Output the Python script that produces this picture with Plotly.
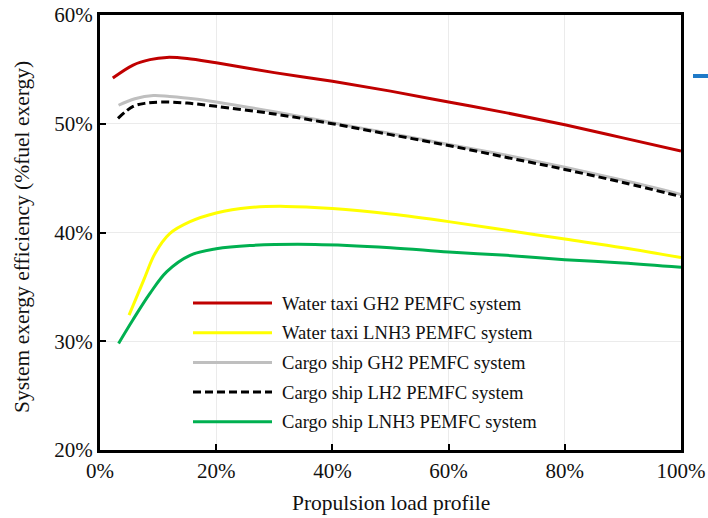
import plotly.graph_objects as go

# Data (load % , efficiency %)
red_x = [2.2, 5.7, 8.6, 11.5, 15, 20, 30, 40, 50, 60, 70, 80, 90, 100]
red_y = [54.2, 55.4, 55.9, 56.1, 56.0, 55.6, 54.7, 53.9, 53.0, 52.0, 51.0, 49.9, 48.7, 47.5]

yel_x = [5, 7.5, 9.5, 12, 15.5, 20, 25.8, 32, 40, 50, 60, 70, 80, 90, 100]
yel_y = [32.4, 35.6, 38.1, 39.9, 41.0, 41.8, 42.3, 42.4, 42.2, 41.7, 41.0, 40.2, 39.4, 38.6, 37.7]

gray_x = [3.2, 6, 9.2, 12, 16, 20, 30, 40, 50, 60, 70, 80, 90, 100]
gray_y = [51.7, 52.3, 52.6, 52.5, 52.3, 52.0, 51.1, 50.1, 49.1, 48.1, 47.1, 46.0, 44.8, 43.5]

blk_x = [3.1, 5.7, 8, 10.9, 15, 20, 30, 40, 50, 60, 70, 80, 90, 100]
blk_y = [50.5, 51.6, 51.9, 52.0, 51.9, 51.6, 50.9, 50.0, 49.0, 48.0, 46.9, 45.8, 44.6, 43.3]

grn_x = [3.2, 5.7, 8.6, 11.5, 15.5, 20, 25.8, 37, 50, 60, 70, 80, 90, 100]
grn_y = [29.8, 32.0, 34.4, 36.4, 37.9, 38.5, 38.8, 38.9, 38.6, 38.2, 37.9, 37.5, 37.2, 36.8]

names = ["Water taxi GH2 PEMFC system", "Water taxi LNH3 PEMFC system",
         "Cargo ship GH2 PEMFC system", "Cargo ship LH2 PEMFC system",
         "Cargo ship LNH3 PEMFC system"]
colors = ["#c00000", "#ffff00", "#bfbfbf", "#000000", "#00b050"]
dashes = ["solid", "solid", "solid", "8px,4px", "solid"]

x_ticks = [0, 20, 40, 60, 80, 100]
y_ticks = [20, 30, 40, 50, 60]

series = [(red_x, red_y), (yel_x, yel_y), (gray_x, gray_y), (blk_x, blk_y), (grn_x, grn_y)]

FONT = "Liberation Serif, Times New Roman, serif"

fig = go.Figure()
for (xs, ys), n, c, d in zip(series, names, colors, dashes):
    fig.add_trace(go.Scatter(x=xs, y=ys, name=n, mode="lines",
                             line=dict(color=c, width=3, dash=d, shape="spline", smoothing=1.0),
                             showlegend=False))

# manual legend (longer sample lines like reference)
for i, (n, c, d) in enumerate(zip(names, colors, dashes)):
    yp = (450 - (303 + i * 29.7)) / 435
    fig.add_shape(type="line", xref="paper", yref="paper",
                  x0=(193 - 100) / 581, x1=(272 - 100) / 581, y0=yp, y1=yp,
                  line=dict(color=c, width=3, dash=d))
    fig.add_annotation(xref="paper", yref="paper", x=(280 - 100) / 581, y=yp,
                       text=n, showarrow=False, xanchor="left", yanchor="middle",
                       font=dict(family=FONT, size=18.6, color="#111"))

# axis titles
fig.add_annotation(xref="paper", yref="paper", x=((292 + 490) / 2 - 100) / 581, y=(450 - 503) / 435,
                   text="Propulsion load profile", showarrow=False, xanchor="center", yanchor="middle",
                   font=dict(family=FONT, size=21.5, color="#111"))
fig.add_annotation(xref="paper", yref="paper", x=(22 - 100) / 581, y=(450 - 237) / 435,
                   text="System exergy efficiency (%fuel exergy)", showarrow=False, textangle=-90,
                   xanchor="center", yanchor="middle",
                   font=dict(family=FONT, size=21.5, color="#111"))

# small blue artifact at right edge
fig.add_shape(type="line", xref="paper", yref="paper",
              x0=(693 - 100) / 581, x1=(708 - 100) / 581,
              y0=(450 - 76) / 435, y1=(450 - 76) / 435,
              line=dict(color="#1f7ac8", width=4))

fig.update_layout(
    width=708, height=518,
    margin=dict(l=100, r=27, t=15, b=68),
    paper_bgcolor="white", plot_bgcolor="white",
    font=dict(family=FONT, size=21, color="#111"),
    showlegend=False,
)
fig.update_xaxes(range=[0, 100], tickvals=x_ticks, ticktext=[f"{v}%" for v in x_ticks],
                 showline=True, linecolor="black", linewidth=3, mirror=True,
                 ticks="inside", ticklen=6, tickwidth=1.5, tickcolor="black",
                 showgrid=True, gridcolor="#ebebeb", gridwidth=1, zeroline=False,
                 automargin=False, tickfont=dict(family=FONT, size=21))
fig.update_yaxes(range=[20, 60], tickvals=y_ticks, ticktext=[f"{v}%" for v in y_ticks],
                 showline=True, linecolor="black", linewidth=3, mirror=True,
                 ticks="inside", ticklen=6, tickwidth=1.5, tickcolor="black",
                 showgrid=True, gridcolor="#ebebeb", gridwidth=1, zeroline=False,
                 automargin=False, tickfont=dict(family=FONT, size=21))

fig.write_html("out.html")
